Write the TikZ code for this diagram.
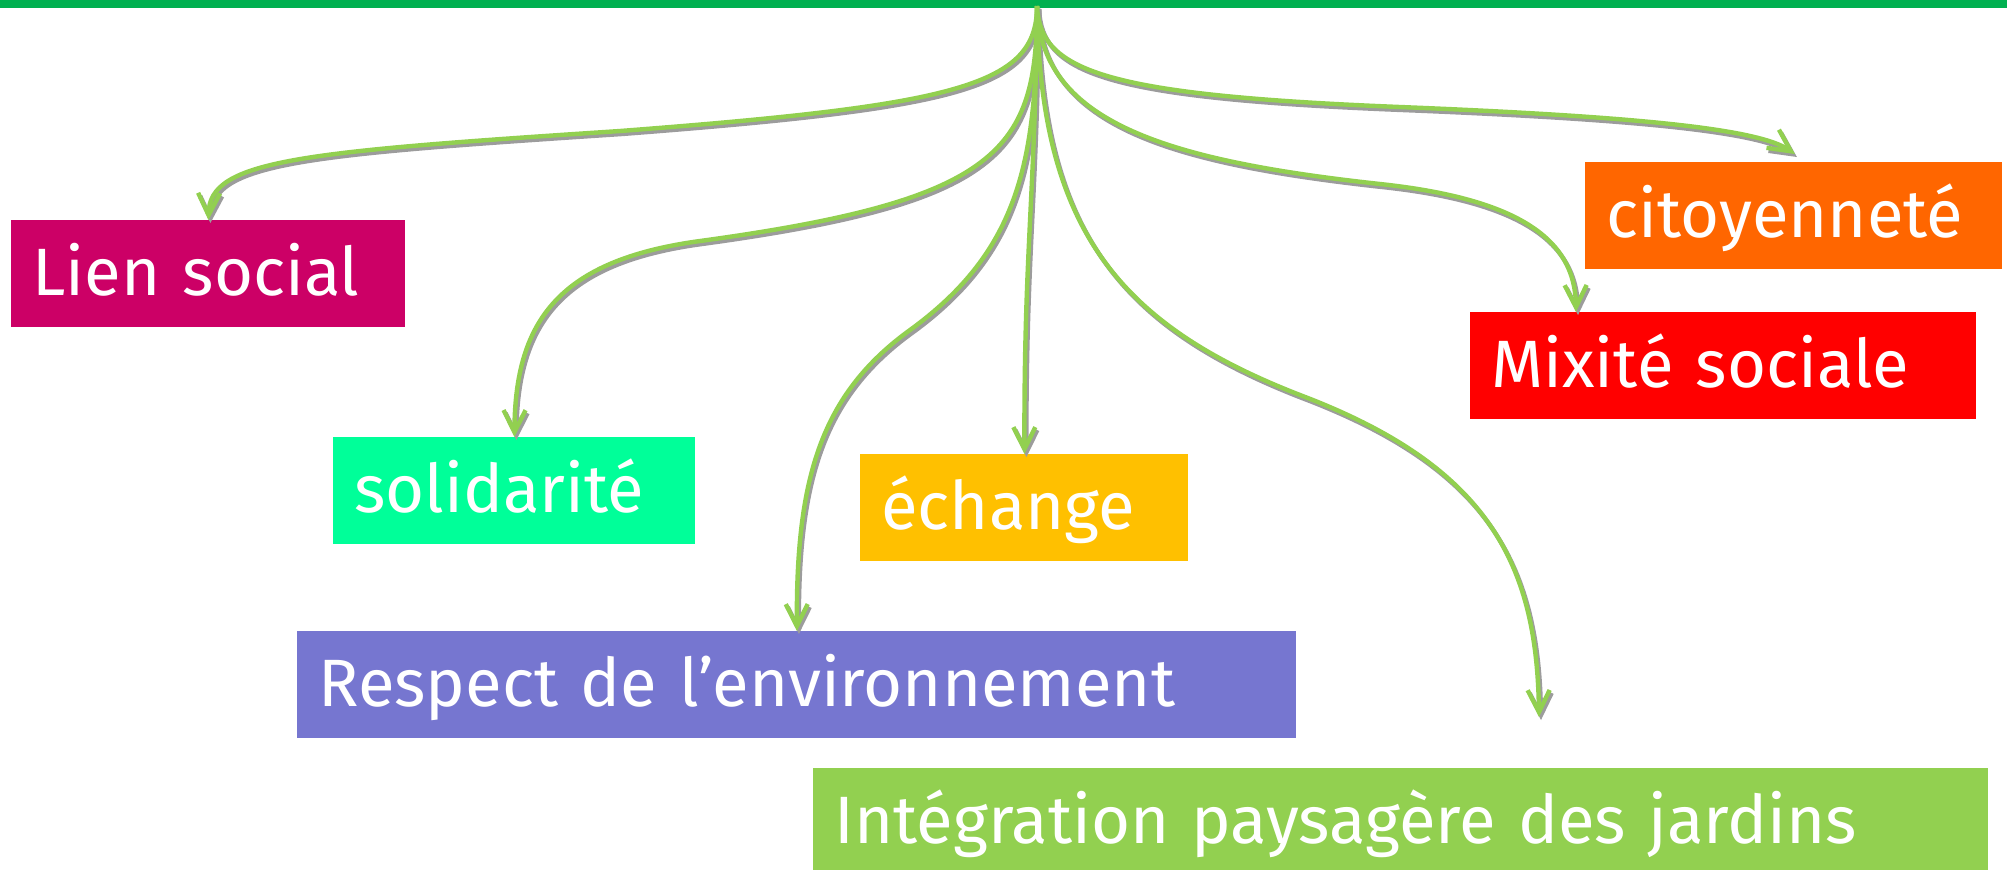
\documentclass[tikz,border=0pt]{standalone}
\usepackage{fontspec}
\setmainfont{Fira Sans}
\usetikzlibrary{arrows.meta,calc}
\definecolor{barg}{HTML}{00B050}
\definecolor{lg}{HTML}{92D050}
\definecolor{shd}{HTML}{9C9C9C}
\definecolor{cLien}{HTML}{CC0066}
\definecolor{cSol}{HTML}{00FF99}
\definecolor{cEch}{HTML}{FFC000}
\definecolor{cResp}{HTML}{7676D0}
\definecolor{cCit}{HTML}{FF6600}
\definecolor{cMix}{HTML}{FF0000}
\definecolor{cInt}{HTML}{92D050}
\tikzset{
 box/.style={fill=#1, anchor=north west, inner xsep=10.5pt, inner ysep=0pt,
   text height=37.5pt, text depth=16pt, align=left,
   font=\fontsize{33.5}{40}\selectfont, text=white},
 link/.style={draw=lg, line width=2.2pt, -{Straight Barb[length=11pt,width=11pt]}},
 linkshadow/.style={draw=shd, line width=2.2pt, -{Straight Barb[length=11pt,width=11pt]},
   transform canvas={shift={(1pt,-1.5pt)}}},
}
\newcommand\linkpath[1]{\draw[linkshadow] #1; \draw[link] #1;}
\begin{document}
\begin{tikzpicture}[x=0.5pt,y=-0.5pt]
\useasboundingbox (0,0) rectangle (2007,869);
\fill[barg] (0,0) rectangle (2007,8);
\coordinate (o) at (1037,6);
\node[box=cLien, text width=176pt] (lien) at (11,220) {Lien social};
\node[box=cSol, text width=160pt] (sol) at (333,437) {solidarité};
\node[box=cEch, text width=143pt] (ech) at (860,454) {échange};
\node[box=cResp, text width=478.5pt] (resp) at (297,631) {Respect de l’environnement};
\node[box=cInt, text width=566.5pt] (integ) at (813,768) {Intégration paysagère des jardins};
\node[box=cCit, text width=187.5pt] (cit) at (1585,162) {citoyenneté};
\node[box=cMix, text width=232pt] (mix) at (1470,312) {Mixité sociale};
\coordinate (integend) at (1539,717);
\coordinate (mixend) at ($(mix.north west)+(106,0)$);
\coordinate (citend) at ($(cit.north)+(1,-8)$);
% connectors
\linkpath{(o) .. controls (1037,85) and (960,105) .. (620,131) .. controls (300,152) and (210,160) .. (lien.north)}
\linkpath{(o) .. controls (1037,150) and (1000,200) .. (700,241) .. controls (560,260) and (515,320) .. (sol.north)}
\linkpath{(o) .. controls (1037,160) and (1020,250) .. (910,330) .. controls (820,395) and (796,480) .. (resp.north)}
\linkpath{(o) .. controls (1035,200) and (1024,250) .. (ech.north)}
\linkpath{(o) .. controls (1040,230) and (1120,325) .. (1300,395) .. controls (1485,465) and (1537,560) .. (integend)}
\linkpath{(o) .. controls (1040,120) and (1160,160) .. (1380,184) .. controls (1520,199) and (1575,240) .. (mixend)}
\linkpath{(o) .. controls (1040,70) and (1100,95) .. (1400,107) .. controls (1650,117) and (1760,130) .. (citend)}
\end{tikzpicture}
\end{document}
